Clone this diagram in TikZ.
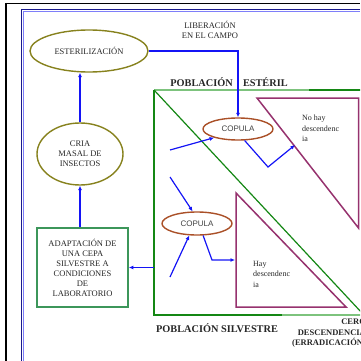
\documentclass[tikz,border=0pt]{standalone}
\usepackage{fontspec}
\setmainfont{Liberation Serif}
\newfontfamily\arialfont{Liberation Sans}
\usepackage{xcolor}
\usepackage{tikz}
\usetikzlibrary{shapes.geometric,arrows.meta}
\definecolor{olivec}{RGB}{135,130,30}
\definecolor{copc}{RGB}{170,80,40}
\definecolor{tric}{RGB}{150,50,110}
\definecolor{gdark}{RGB}{20,135,20}
\definecolor{glight}{RGB}{125,195,125}
\definecolor{boxc}{RGB}{60,150,90}
\definecolor{navy}{RGB}{25,25,140}
\definecolor{flow}{RGB}{20,20,245}
\begin{document}
\begin{tikzpicture}[x=1pt,y=-1pt,
  olivebox/.style={ellipse,draw=olivec,line width=1.4pt,inner sep=0pt,align=center,
    font=\fontsize{8.5}{10}\selectfont,text=black!85},
  copula/.style={ellipse,draw=copc,line width=1.4pt,inner sep=0pt,
    font=\arialfont\fontsize{8}{10}\selectfont,text=black!75},
  labbox/.style={draw=boxc,line width=1.6pt,inner sep=0pt,align=center,
    font=\fontsize{8.5}{10}\selectfont,text=black!85},
  lbl/.style={font=\fontsize{8}{10.5}\selectfont,text=black!85,align=left,inner sep=0pt},
  pob/.style={font=\bfseries\fontsize{10.3}{10}\selectfont,text=black!85,inner sep=0pt},
  flecha/.style={flow,line width=1.2pt,-{Latex[length=4.5pt,width=4pt]}},
  tri/.style={tric,line width=1.5pt,line join=miter}]
\clip (0,0) rectangle (360,361);
% marcos
\draw[black,line width=1pt] (5,3.5) -- (360,3.5);
\draw[black,line width=2pt] (6,3) -- (6,361);
\draw[navy,line width=1.6pt] (21.5,361) -- (21.5,9.5) -- (360,9.5);
\draw[flow!55,line width=0.7pt] (23.2,361) -- (23.2,11.2) -- (360,11.2);
% poblaciones
\draw[gdark,line width=1.5pt] (154,90) -- (154,315) -- (282,315);
\draw[glight,line width=1.2pt] (282,315) -- (362,315);
\draw[glight,line width=1.2pt] (154,90) -- (309,90);
\draw[gdark,line width=1.5pt] (309,90) -- (362,90);
\draw[gdark,line width=1.2pt] (154,90) -- (362,313);
\draw[tri] (257,98) -- (358.5,98) -- (358.5,228) -- cycle;
\draw[tri] (236,193) -- (236,307) -- (346,307) -- cycle;
% nodos
\node[olivebox,minimum width=118pt,minimum height=42pt] (ester) at (89,51) {ESTERILIZACIÓN};
\node[olivebox,minimum width=86pt,minimum height=62pt] (cria) at (80,154) {CRIA\\MASAL DE\\INSECTOS};
\node[labbox,minimum width=91pt,minimum height=79pt] (adapt) at (82.5,267.5) {ADAPTACIÓN DE\\UNA CEPA\\SILVESTRE A\\CONDICIONES\\DE\\LABORATORIO};
\node[copula,minimum width=70pt,minimum height=22pt] (cop1) at (238,129) {COPULA};
\node[copula,minimum width=70pt,minimum height=23pt] (cop2) at (197,223.5) {COPULA};
\node[lbl,align=center,font=\fontsize{8.5}{10}\selectfont] (liber) at (210,30) {LIBERACIÓN\\EN EL CAMPO};
\node[pob] (pest) at (229,82) {POBLACIÓN\quad ESTÉRIL};
\node[pob] (psil) at (217,328) {POBLACIÓN SILVESTRE};
\node[lbl,align=right,anchor=north west,font=\bfseries\fontsize{8.5}{10.5}\selectfont] (cero) at (292,319) {CERO\\DESCENDENCIA\\(ERRADICACIÓN)};
\node[lbl,anchor=north west] (nohay) at (302,115) {No hay\\descendenc\\ia};
\node[lbl,anchor=north west] (hay) at (253,261) {Hay\\descendenc\\ia};
% flechas
\coordinate (borde) at (154,267.5);
\coordinate (a1) at (170,150);
\coordinate (a2) at (170,177);
\coordinate (a3) at (170,277);
\coordinate (v1) at (268,167);
\coordinate (t1) at (295,145);
\coordinate (v2) at (212,260);
\coordinate (t2) at (235,260);
\draw[flecha] (cria.north) -- (cria.north |- ester.south);
\draw[flecha] (cria.south |- adapt.north) -- (cria.south);
\draw[flecha] (borde) -- (adapt.east);
\draw[flecha] (ester.east) -| (cop1.north);
\draw[flecha] (a1) -- (cop1.200);
\draw[flecha] (cop1.-60) -- (v1) -- (t1);
\draw[flecha] (a2) -- (cop2.110);
\draw[flecha] (a3) -- (cop2.237);
\draw[flecha] (cop2.-63) -- (v2) -- (t2);
\end{tikzpicture}
\end{document}
